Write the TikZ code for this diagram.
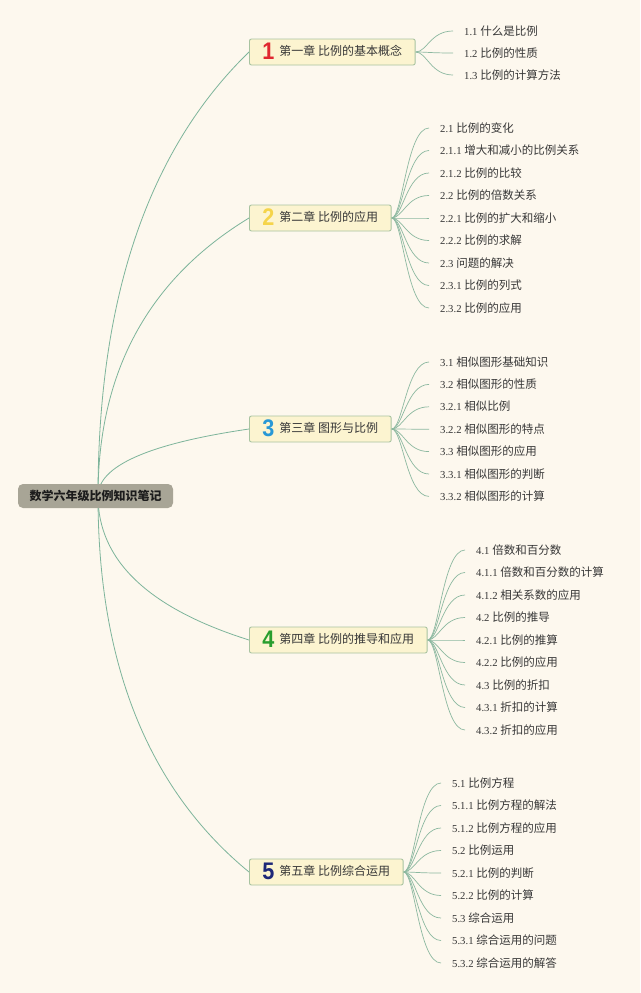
\documentclass[tikz,border=0pt]{standalone}
\usepackage{fontspec}
\setmainfont{Liberation Serif}
\newfontfamily\cjk{Noto Sans CJK SC}
\newfontfamily\numf{Liberation Sans}
\usetikzlibrary{calc}
\pgfdeclarelayer{back}
\pgfdeclarelayer{lines}
\pgfsetlayers{back,lines,main}
\definecolor{bgc}{RGB}{253,248,238}
\definecolor{chfill}{RGB}{252,244,208}
\definecolor{chdraw}{RGB}{168,195,160}
\definecolor{rootfill}{RGB}{168,165,150}
\definecolor{roottext}{RGB}{28,28,28}
\definecolor{leaftext}{RGB}{55,55,55}
\definecolor{rootline}{RGB}{125,180,155}
\definecolor{leafline}{RGB}{140,184,160}
\definecolor{nA}{RGB}{224,40,48}
\definecolor{nB}{RGB}{245,212,74}
\definecolor{nC}{RGB}{40,152,214}
\definecolor{nD}{RGB}{40,158,46}
\definecolor{nE}{RGB}{30,40,120}
\newcommand\leaftext[2]{#1 {\cjk\fontsize{11.5}{14}\selectfont #2}}
\newcommand\chnum[2]{\raisebox{-3.5pt}{\scalebox{0.9}[1]{\numf\bfseries\fontsize{24}{24}\selectfont\color{#1}#2}}\hspace{5pt}}
\newcommand\mkleaves[5]{%
  \foreach \a/\b [count=\i] in {#5} {
    \node[leaf] (#1l\i) at (#2,{#3+(\i-1)*#4}) {\leaftext{\a}{\b}};
    \begin{pgfonlayer}{lines}
    \draw[leafconn] let \p1=(#1.east),\p2=(#1l\i.west) in
      (\p1) .. controls ({\x1+0.3*(\x2-\x1)},\y1) and ({\x2-0.6*(\x2-\x1)},\y2) .. (\p2);
    \end{pgfonlayer}
  }}
\newcommand\rootlink[1]{%
  \draw[rootconn] let \p1=(rs),\p2=(#1.west),\p3=(\x1,{\y2+0.33*(\y1-\y2)}) in
    (\p1) .. controls ($(\p1)!0.6667!(\p3)$) and ($(\p2)!0.6667!(\p3)$) .. (\p2);}
\tikzset{
  rootbox/.style={fill=rootfill, rounded corners=5pt, minimum width=155pt, minimum height=24pt,
    inner sep=0pt, font=\cjk\bfseries\fontsize{12}{14}\selectfont, text=roottext},
  chbox/.style={anchor=west, fill=chfill, draw=chdraw, line width=0.9pt, rounded corners=2pt,
    minimum height=26pt, inner xsep=13pt, inner ysep=0pt, text height=0.88em, text depth=0.12em,
    font=\cjk\fontsize{12}{14}\selectfont, text=leaftext},
  leaf/.style={anchor=west, inner xsep=11pt, inner ysep=1pt, text height=0.95em, text depth=0.15em,
    font=\fontsize{10.7}{14}\selectfont, text=leaftext},
  rootconn/.style={draw=rootline, line width=0.8pt},
  leafconn/.style={draw=leafline, line width=0.7pt},
}
\begin{document}
\begin{tikzpicture}[x=1pt,y=-1pt]
\useasboundingbox (0,0) rectangle (640,993);
\begin{pgfonlayer}{back}
\fill[bgc] (0,0) rectangle (640,993);
\end{pgfonlayer}
\coordinate (rs) at (98,496);
\node[rootbox] (root) at (95.5,496) {数学六年级比例知识笔记};
\node[chbox] (c1) at (249,52) {\chnum{nA}{1}第一章 比例的基本概念};
\node[chbox] (c2) at (249,218) {\chnum{nB}{2}第二章 比例的应用};
\node[chbox] (c3) at (249,429) {\chnum{nC}{3}第三章 图形与比例};
\node[chbox] (c4) at (249,640) {\chnum{nD}{4}第四章 比例的推导和应用};
\node[chbox] (c5) at (249,872) {\chnum{nE}{5}第五章 比例综合运用};
\begin{pgfonlayer}{lines}
\rootlink{c1}
\rootlink{c2}
\rootlink{c3}
\rootlink{c4}
\rootlink{c5}
\end{pgfonlayer}
\mkleaves{c1}{453}{31}{22}{1.1/什么是比例,1.2/比例的性质,1.3/比例的计算方法}
\mkleaves{c2}{429}{128}{22.5}{2.1/比例的变化,2.1.1/增大和减小的比例关系,2.1.2/比例的比较,2.2/比例的倍数关系,2.2.1/比例的扩大和缩小,2.2.2/比例的求解,2.3/问题的解决,2.3.1/比例的列式,2.3.2/比例的应用}
\mkleaves{c3}{429}{362}{22.4}{3.1/相似图形基础知识,3.2/相似图形的性质,3.2.1/相似比例,3.2.2/相似图形的特点,3.3/相似图形的应用,3.3.1/相似图形的判断,3.3.2/相似图形的计算}
\mkleaves{c4}{465}{550}{22.5}{4.1/倍数和百分数,4.1.1/倍数和百分数的计算,4.1.2/相关系数的应用,4.2/比例的推导,4.2.1/比例的推算,4.2.2/比例的应用,4.3/比例的折扣,4.3.1/折扣的计算,4.3.2/折扣的应用}
\mkleaves{c5}{441}{783}{22.5}{5.1/比例方程,5.1.1/比例方程的解法,5.1.2/比例方程的应用,5.2/比例运用,5.2.1/比例的判断,5.2.2/比例的计算,5.3/综合运用,5.3.1/综合运用的问题,5.3.2/综合运用的解答}
\end{tikzpicture}
\end{document}
